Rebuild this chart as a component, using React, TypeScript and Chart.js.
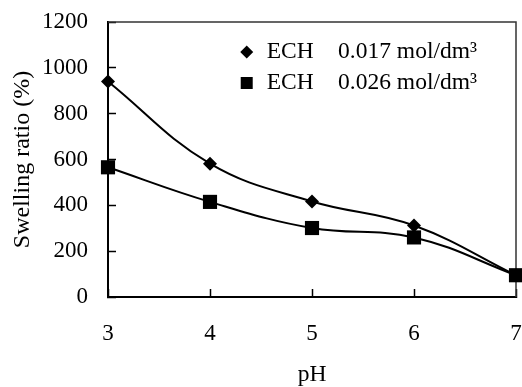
import React, { useEffect, useRef } from 'react';
import { Chart, registerables } from 'chart.js';

Chart.register(...registerables);

const phValues = [3, 4, 5, 6, 7];
const ech017 = [940, 582, 417, 312, 95];
const ech026 = [566, 415, 301, 260, 95];
const seriesNames = ['ECH', 'ECH'];
const seriesConc = ['0.017 mol/dm³', '0.026 mol/dm³'];
const yTickValues = [0, 200, 400, 600, 800, 1000, 1200];
const xTickValues = [3, 4, 5, 6, 7];

const FONT = "'Liberation Serif', 'Times New Roman', serif";

const framePlugin = {
  id: 'frame',
  beforeDatasetsDraw(chart: any) {
    const { ctx, chartArea } = chart;
    ctx.save();
    ctx.strokeStyle = '#333';
    ctx.lineWidth = 1.5;
    ctx.beginPath();
    ctx.moveTo(chartArea.left, chartArea.top);
    ctx.lineTo(chartArea.right, chartArea.top);
    ctx.lineTo(chartArea.right, chartArea.bottom);
    ctx.stroke();
    ctx.restore();
  },
};

const legendPlugin = {
  id: 'insideLegend',
  afterDatasetsDraw(chart: any) {
    const { ctx, chartArea } = chart;
    const w = chartArea.right - chartArea.left;
    const markerX = chartArea.left + w * 0.34;
    const nameX = chartArea.left + w * 0.389;
    const concX = chartArea.left + w * 0.564;
    const rows = [chartArea.top + 30, chartArea.top + 61];
    ctx.save();
    ctx.fillStyle = '#000';
    ctx.font = `23.5px ${FONT}`;
    ctx.textBaseline = 'middle';
    ctx.textAlign = 'left';
    chart.data.datasets.forEach((ds: any, i: number) => {
      const y = rows[i];
      ctx.beginPath();
      if (i === 0) {
        const r = 6.5;
        ctx.moveTo(markerX - r, y);
        ctx.lineTo(markerX, y - r);
        ctx.lineTo(markerX + r, y);
        ctx.lineTo(markerX, y + r);
        ctx.closePath();
      } else {
        const s = 6;
        ctx.rect(markerX - s, y - s, 2 * s, 2 * s);
      }
      ctx.fill();
      ctx.fillText(seriesNames[i], nameX, y);
      ctx.fillText(seriesConc[i], concX, y);
    });
    ctx.restore();
  },
};

function zeroPadding(scale: any) {
  scale.paddingLeft = 0;
  scale.paddingRight = 0;
  scale.paddingTop = 0;
  scale.paddingBottom = 0;
}

export default function App() {
  const canvasRef = useRef<HTMLCanvasElement | null>(null);

  useEffect(() => {
    document.body.style.margin = '0';
    const canvas = canvasRef.current;
    if (!canvas) return;
    const chart = new Chart(canvas, {
      type: 'line',
      data: {
        datasets: [
          {
            label: `${seriesNames[0]} ${seriesConc[0]}`,
            data: phValues.map((x, i) => ({ x, y: ech017[i] })),
            borderColor: '#000',
            backgroundColor: '#000',
            borderWidth: 2,
            pointStyle: 'rectRot',
            pointRadius: 7,
            pointBorderWidth: 0,
            tension: 0.4,
            clip: false as any,
          },
          {
            label: `${seriesNames[1]} ${seriesConc[1]}`,
            data: phValues.map((x, i) => ({ x, y: ech026[i] })),
            borderColor: '#000',
            backgroundColor: '#000',
            borderWidth: 2,
            pointStyle: 'rect',
            pointRadius: 10,
            pointBorderWidth: 0,
            tension: 0.4,
            clip: false as any,
          },
        ],
      },
      options: {
        animation: false,
        responsive: false,
        layout: { autoPadding: false, padding: { top: 22, right: 6, left: 0, bottom: 0 } },
        plugins: {
          legend: { display: false },
          tooltip: { enabled: false },
        },
        scales: {
          x: {
            type: 'linear',
            min: 3,
            max: 7,
            afterBuildTicks(scale: any) {
              scale.ticks = xTickValues.map((v) => ({ value: v }));
            },
            afterFit(scale: any) {
              scale.height = 90;
              zeroPadding(scale);
            },
            border: { display: true, color: '#000', width: 2 },
            grid: {
              drawOnChartArea: false,
              drawTicks: true,
              tickLength: -8,
              tickWidth: 1.5,
              tickColor: '#000',
            },
            ticks: {
              color: '#000',
              font: { family: FONT, size: 23 },
              padding: 31,
              maxRotation: 0,
              callback: (v: any) => String(v),
            },
            title: {
              display: true,
              text: 'pH',
              color: '#000',
              font: { family: FONT, size: 23.5, lineHeight: 1 },
              padding: { top: 0, bottom: 0 },
            },
          },
          y: {
            type: 'linear',
            min: 0,
            max: 1200,
            afterBuildTicks(scale: any) {
              scale.ticks = yTickValues.map((v) => ({ value: v }));
            },
            afterFit(scale: any) {
              scale.width = 108;
              zeroPadding(scale);
            },
            border: { display: true, color: '#000', width: 2 },
            grid: {
              drawOnChartArea: false,
              drawTicks: true,
              tickLength: -8,
              tickWidth: 1.5,
              tickColor: '#000',
            },
            ticks: {
              color: '#000',
              font: { family: FONT, size: 23 },
              padding: 28,
              callback: (v: any) => String(v),
            },
            title: {
              display: true,
              text: 'Swelling ratio (%)',
              color: '#000',
              font: { family: FONT, size: 24 },
              padding: { top: 8, bottom: 0 },
            },
          },
        },
      },
      plugins: [framePlugin, legendPlugin],
    });
    return () => chart.destroy();
  }, []);

  return (
    <div style={{ width: 522, height: 387 }}>
      <canvas ref={canvasRef} width={522} height={387} />
    </div>
  );
}
